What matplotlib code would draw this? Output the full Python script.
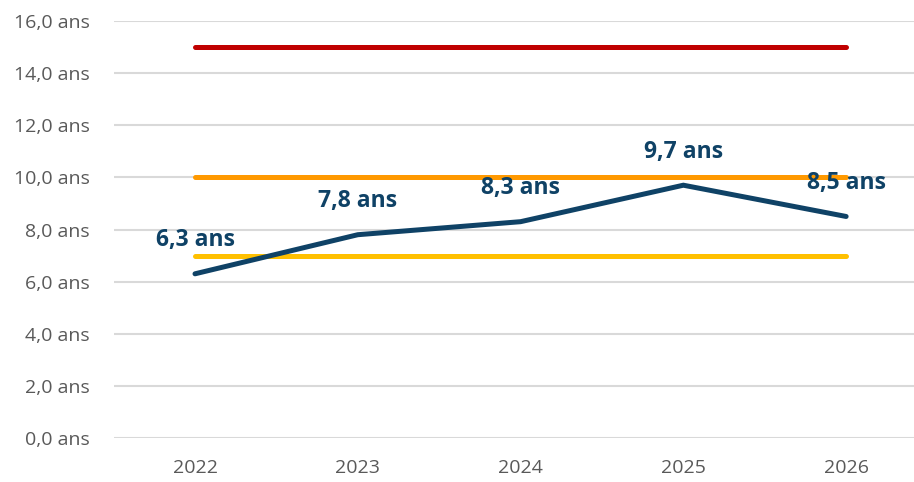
import numpy as np
import matplotlib.pyplot as plt
from matplotlib.ticker import FuncFormatter

plt.rcParams['font.family'] = ['Open Sans', 'DejaVu Sans']

# data
years = ['2022', '2023', '2024', '2025', '2026']
duree = [6.3, 7.8, 8.3, 9.7, 8.5]
seuil_haut = [15.0] * 5
seuil_moyen = [10.0] * 5
seuil_bas = [7.0] * 5

x = np.arange(len(years))

fig = plt.figure(figsize=(9.14, 4.82), dpi=100)
ax = fig.add_axes([0.1243, 0.0913, 0.8905, 0.8651])

ax.plot(x, seuil_haut, color='#C00000', lw=3.6, solid_capstyle='round', zorder=3)
ax.plot(x, seuil_moyen, color='#FF9900', lw=3.6, solid_capstyle='round', zorder=3)
ax.plot(x, seuil_bas, color='#FFC000', lw=3.6, solid_capstyle='round', zorder=3)
ax.plot(x, duree, color='#0F4266', lw=3.6, solid_capstyle='round',
        solid_joinstyle='miter', zorder=4)

for xi, v in zip(x, duree):
    ax.annotate(f"{v:.1f} ans".replace('.', ','), (xi, v), xytext=(0, 24),
                textcoords='offset points', ha='center', va='center',
                fontsize=16.5, fontweight='bold', color='#0F4266', zorder=5)

ax.set_xlim(-0.5, 4.5)
ax.set_ylim(0, 16)
ax.set_yticks(np.arange(0, 17, 2))
ax.yaxis.set_major_formatter(FuncFormatter(lambda v, p: f"{v:.1f} ans".replace('.', ',')))
ax.set_xticks(x)
ax.set_xticklabels(years)

ax.grid(axis='y', color='#D9D9D9', lw=1.5)
ax.set_axisbelow(True)
for s in ax.spines.values():
    s.set_visible(False)
ax.tick_params(length=0, labelsize=14, labelcolor='#595959')
ax.tick_params(axis='y', pad=17)
ax.tick_params(axis='x', pad=15)

plt.savefig('out.png', dpi=100)
